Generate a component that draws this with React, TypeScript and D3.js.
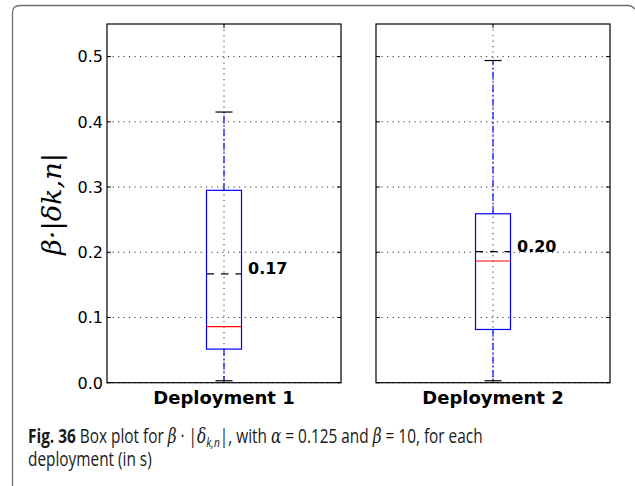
import React, { useLayoutEffect, useRef, useState } from "react";
import * as d3 from "d3";

const categories = ["Deployment 1", "Deployment 2"];
const q1Values = [0.0515, 0.0816];
const medianValues = [0.086, 0.1866];
const q3Values = [0.295, 0.259];
const whiskerLow = [0.003, 0.003];
const whiskerHigh = [0.415, 0.494];
const meanValues = [0.167, 0.201];
const meanLabels = ["0.17", "0.20"];
const yTicks = [0, 0.1, 0.2, 0.3, 0.4, 0.5];

const W = 635;
const H = 486;
const plotTop = 24;
const plotBottom = 382.7;

export default function App() {
  const capRef = useRef<SVGTextElement>(null);
  const [sx, setSx] = useState(1);
  useLayoutEffect(() => {
    if (capRef.current) {
      const w = capRef.current.getBBox().width;
      if (w > 0) setSx(455 / w);
    }
  }, []);

  const panel = d3
    .scaleBand<string>()
    .domain(categories)
    .range([107, 610])
    .paddingInner(35 / 269)
    .paddingOuter(0);
  const y = d3.scaleLinear().domain([0, 0.55]).range([plotBottom, plotTop]);
  const fmt = d3.format(".1f");
  const boxW = 35;
  const capW = 17;
  const tickLen = 4;

  return (
    <svg
      width={W}
      height={H}
      style={{ position: "absolute", left: 0, top: 0, background: "#fff" }}
      fontFamily="DejaVu Sans"
    >
      {/* figure frame */}
      <path
        d="M12.5,486 L12.5,13 Q12.5,5.5 20,5.5 L628,5.5 Q632,5.5 634.5,9"
        fill="none"
        stroke="#6e6e6e"
        strokeWidth={1.3}
      />

      {categories.map((c, i) => {
        const x0 = panel(c)!;
        const pw = panel.bandwidth();
        const cx = x0 + pw / 2;
        const yLo = y(whiskerLow[i]);
        const yHi = y(whiskerHigh[i]);
        const yQ1 = y(q1Values[i]);
        const yQ3 = y(q3Values[i]);
        return (
          <g key={c}>
            {/* grid */}
            {yTicks.map((t) => (
              <line
                key={"g" + t}
                x1={x0}
                x2={x0 + pw}
                y1={y(t)}
                y2={y(t)}
                stroke="#333"
                strokeWidth={1}
                strokeDasharray="1.2,4.3"
              />
            ))}
            <line
              x1={cx}
              x2={cx}
              y1={plotTop}
              y2={plotBottom}
              stroke="#333"
              strokeWidth={1}
              strokeDasharray="1.2,4.3"
            />
            {/* whiskers */}
            <line
              x1={cx}
              x2={cx}
              y1={yQ3}
              y2={yHi}
              stroke="#0000ff"
              strokeWidth={1.2}
              strokeDasharray="7,2.5,1.5,2.5"
            />
            <line
              x1={cx}
              x2={cx}
              y1={yQ1}
              y2={yLo}
              stroke="#0000ff"
              strokeWidth={1.2}
              strokeDasharray="7,2.5,1.5,2.5"
            />
            <line x1={cx - capW / 2} x2={cx + capW / 2} y1={yHi} y2={yHi} stroke="#000" strokeWidth={1.2} />
            <line x1={cx - capW / 2} x2={cx + capW / 2} y1={yLo} y2={yLo} stroke="#000" strokeWidth={1.2} />
            {/* box */}
            <rect
              x={cx - boxW / 2}
              y={yQ3}
              width={boxW}
              height={yQ1 - yQ3}
              fill="none"
              stroke="#0000ff"
              strokeWidth={1.2}
            />
            <line
              x1={cx - boxW / 2}
              x2={cx + boxW / 2}
              y1={y(medianValues[i])}
              y2={y(medianValues[i])}
              stroke="#ff0000"
              strokeWidth={1.2}
            />
            <line
              x1={cx - boxW / 2}
              x2={cx + boxW / 2}
              y1={y(meanValues[i])}
              y2={y(meanValues[i])}
              stroke="#000"
              strokeWidth={1.2}
              strokeDasharray="7.5,7"
            />
            <text
              x={cx + boxW / 2 + 6.5}
              y={y(meanValues[i])}
              fontSize={16}
              fontWeight="bold"
              fill="#000"
            >
              {meanLabels[i]}
            </text>
            {/* ticks */}
            {yTicks.map((t) => (
              <g key={"t" + t}>
                <line x1={x0} x2={x0 + tickLen} y1={y(t)} y2={y(t)} stroke="#000" strokeWidth={1} />
                <line x1={x0 + pw - tickLen} x2={x0 + pw} y1={y(t)} y2={y(t)} stroke="#000" strokeWidth={1} />
              </g>
            ))}
            <line x1={cx} x2={cx} y1={plotBottom} y2={plotBottom - tickLen} stroke="#000" strokeWidth={1} />
            <line x1={cx} x2={cx} y1={plotTop} y2={plotTop + tickLen} stroke="#000" strokeWidth={1} />
            {/* frame */}
            <rect
              x={x0}
              y={plotTop}
              width={pw}
              height={plotBottom - plotTop}
              fill="none"
              stroke="#000"
              strokeWidth={1.2}
            />
            <text x={cx} y={404} textAnchor="middle" fontSize={18} fontWeight="bold" fill="#000">
              {c}
            </text>
            {i === 0 &&
              yTicks.map((t) => (
                <text
                  key={"l" + t}
                  x={x0 - 4}
                  y={y(t) + 5.8}
                  textAnchor="end"
                  fontSize={16}
                  fill="#000"
                >
                  {fmt(t)}
                </text>
              ))}
          </g>
        );
      })}

      {/* y axis label */}
      <text
        transform="translate(61,204) rotate(-90)"
        textAnchor="middle"
        fontFamily="DejaVu Serif"
        fontStyle="italic"
        fontSize={26}
        fill="#000"
        textLength={102}
        lengthAdjust="spacingAndGlyphs"
      >
        β·|δk,n|
      </text>

      {/* caption */}
      <g transform={`translate(28,0) scale(${sx},1)`}>
        <text ref={capRef} x={0} y={443} fontFamily="Open Sans" fontSize={19.5} fill="#1a1a1a">
          <tspan fontWeight="bold">Fig. 36</tspan>
          <tspan> Box plot for </tspan>
          <tspan fontFamily="DejaVu Serif" fontStyle="italic">β</tspan>
          <tspan> · |</tspan>
          <tspan fontFamily="DejaVu Serif" fontStyle="italic">δ</tspan>
          <tspan fontStyle="italic" fontSize={13} dy={4}>k,n</tspan>
          <tspan dy={-4}>|, with </tspan>
          <tspan fontFamily="DejaVu Serif" fontStyle="italic">α</tspan>
          <tspan> = 0.125 and </tspan>
          <tspan fontFamily="DejaVu Serif" fontStyle="italic">β</tspan>
          <tspan> = 10, for each</tspan>
        </text>
        <text x={0} y={466} fontFamily="Open Sans" fontSize={19.5} fill="#1a1a1a">
          deployment (in s)
        </text>
      </g>
    </svg>
  );
}
